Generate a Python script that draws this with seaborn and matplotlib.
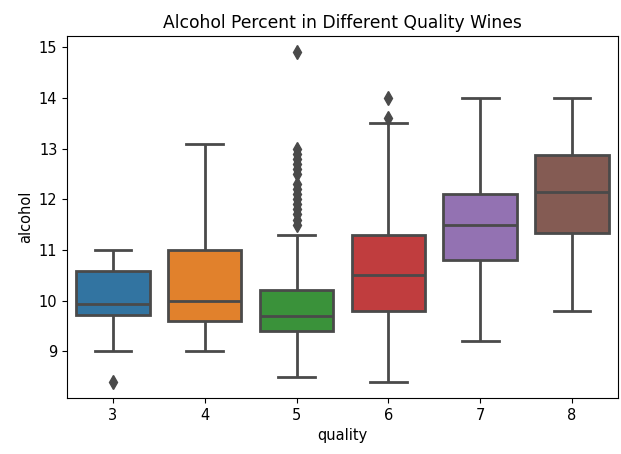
import matplotlib
matplotlib.use("Agg")
import matplotlib.pyplot as plt
import numpy as np
import pandas as pd
import seaborn as sns

# Alcohol (%) by wine quality: five-number box summaries and outlying wines
quality = ["3", "4", "5", "6", "7", "8"]
whisker_low = [9.0, 9.0, 8.5, 8.4, 9.2, 9.8]
q1 = [9.725, 9.6, 9.4, 9.8, 10.8, 11.325]
median = [9.925, 10.0, 9.7, 10.5, 11.5, 12.15]
q3 = [10.575, 11.0, 10.2, 11.3, 12.1, 12.875]
whisker_high = [11.0, 13.1, 11.3, 13.5, 14.0, 14.0]
outliers = {
    "3": [8.4],
    "4": [],
    "5": [11.5, 11.6, 11.7, 11.8, 11.9, 12.0, 12.1, 12.2, 12.3,
          12.5, 12.6, 12.7, 12.8, 12.9, 13.0, 14.9],
    "6": [13.6, 14.0],
    "7": [],
    "8": [],
}

# Build a long-form table whose quartiles and whiskers reproduce the summaries
reps = 60
rows = []
for i, q in enumerate(quality):
    vals = ([whisker_low[i]] + [q1[i]] * reps + [median[i]] * reps
            + [q3[i]] * reps + [whisker_high[i]] + outliers[q])
    rows += [(q, v) for v in vals]
wine = pd.DataFrame(rows, columns=["quality", "alcohol"])

line_gray = "#4a4a4a"

fig, ax = plt.subplots(figsize=(6.21, 4.54), dpi=100)
fig.subplots_adjust(left=0.108, right=0.995, top=0.921, bottom=0.123)

sns.boxplot(data=wine, x="quality", y="alcohol", hue="quality",
            order=quality, hue_order=quality, palette=sns.color_palette()[:6],
            saturation=0.75, legend=False, ax=ax, width=0.8,
            linewidth=2, linecolor=line_gray,
            flierprops=dict(marker="d", markersize=7.5, markeredgewidth=1,
                            markerfacecolor=line_gray, markeredgecolor=line_gray))

ax.set_title("Alcohol Percent in Different Quality Wines", fontsize=12.3)
ax.set_xlabel("quality", fontsize=10.5)
ax.set_ylabel("alcohol", fontsize=10.5)
ax.tick_params(labelsize=10.5)

fig.savefig("out.png", dpi=100)
